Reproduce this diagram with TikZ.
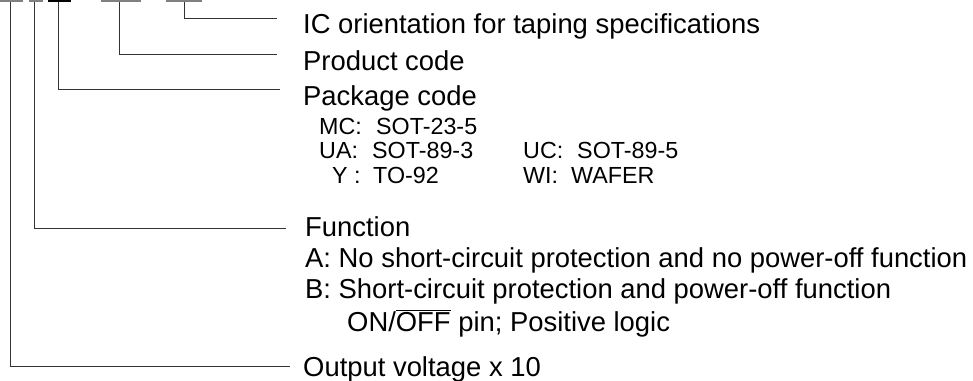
\documentclass[tikz,border=0pt]{standalone}
\usepackage{fontspec}
\setmainfont{Liberation Sans}
\begin{document}
\begin{tikzpicture}[x=1pt,y=-1pt,
  conn/.style={line width=1pt,black!80},
  bar/.style={line width=1.6pt,black!50},
  lbl/.style={anchor=base west,inner sep=0pt,font=\fontsize{27.4pt}{30pt}\selectfont},
  sub/.style={anchor=base west,inner sep=0pt,font=\fontsize{23.3pt}{26pt}\selectfont}]
\useasboundingbox (0,0) rectangle (973,380);
% blanks of the part number
\draw[bar] (0,1.2) -- (22.7,1.2);
\draw[bar] (29,1.2) -- (42.7,1.2);
\draw[bar,black,line width=2pt] (48,1) -- (70.7,1);
\draw[bar] (101,1.2) -- (141,1.2);
\draw[bar] (165.7,1.2) -- (201.7,1.2);
\coordinate (t1) at (10,1.5);
\coordinate (t2) at (34.7,1.5);
\coordinate (t3) at (58.3,1.5);
\coordinate (t4) at (119,1.5);
\coordinate (t5) at (184.3,1.5);
\coordinate (e5) at (277,18.3);
\coordinate (e4) at (277,54);
\coordinate (e3) at (280,89.3);
\coordinate (e2) at (286,228.5);
\coordinate (e1) at (290,366);
% labels
\node[lbl] (ic) at (303,33) {IC orientation for taping specifications};
\node[lbl] (prod) at (303,70) {Product code};
\node[lbl] (pkg) at (303,105) {Package code};
\node[sub] (mc) at (319,134) {MC:};
\node[sub] (mcv) at (376,134) {SOT-23-5};
\node[sub] (ua) at (319,158) {UA:};
\node[sub] (uav) at (372,158) {SOT-89-3};
\node[sub] (uc) at (523,158) {UC:};
\node[sub] (ucv) at (577,158) {SOT-89-5};
\node[sub] (yy) at (332,183) {Y :};
\node[sub] (yv) at (373,183) {TO-92};
\node[sub] (wi) at (523,183) {WI:};
\node[sub] (wiv) at (571,183) {WAFER};
\node[lbl] (fn) at (305,236) {Function};
\node[lbl] (fa) at (305,267) {A: No short-circuit protection and no power-off function};
\node[lbl] (fb) at (305,298) {B: Short-circuit protection and power-off function};
\node[lbl] (fon) at (347,331) {ON/$\overline{\mbox{OFF}}$ pin; Positive logic};
\node[lbl] (out) at (303,376) {Output voltage x 10};
% connectors
\draw[conn] (t5) |- (e5);
\draw[conn] (t4) |- (e4);
\draw[conn] (t3) |- (e3);
\draw[conn] (t2) |- (e2);
\draw[conn] (t1) |- (e1);
\end{tikzpicture}
\end{document}
